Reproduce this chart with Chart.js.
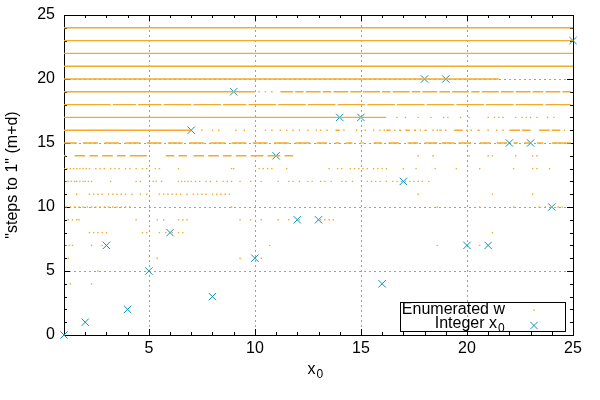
<!DOCTYPE html>
<html>
<head>
<meta charset="utf-8">
<title>steps to 1</title>
<script src="https://cdn.jsdelivr.net/npm/chart.js@4.4.1/dist/chart.umd.min.js"></script>
<style>
  html, body { margin: 0; padding: 0; background: #fff; }
  #wrap { width: 600px; height: 400px; }
</style>
</head>
<body>
<div id="wrap"><canvas id="plot"></canvas></div>
<script>
// integer starting values and their steps to 1
const xValues = [1, 2, 3, 4, 5, 6, 7, 8, 9, 10, 11, 12, 13, 14, 15, 16, 17, 18, 19, 20, 21, 22, 23, 24, 25];
const steps = [0, 1, 7, 2, 5, 8, 16, 3, 19, 6, 14, 9, 9, 17, 17, 4, 12, 20, 20, 7, 7, 15, 15, 10, 23];

// labelled ticks
const xTickLabels = [5, 10, 15, 20, 25];
const yTickLabels = [0, 5, 10, 15, 20, 25];

// enumerated w, stretches where the dots run together: [steps, from x, to x]
const wRuns = [
    [24, 1, 25], [23, 1, 25], [22, 1, 25], [21, 1, 25],
    [20, 1, 21.5],
    [19, 1, 10.0], [19, 11.2, 11.8], [19, 11.9, 12.3], [19, 12.4, 13.1], [19, 13.2, 13.6], [19, 13.7, 14.4],
    [19, 14.5, 15.0], [19, 15.1, 15.9], [19, 16.0, 16.4], [19, 16.5, 17.3], [19, 17.4, 17.8], [19, 17.9, 18.6],
    [19, 18.7, 19.2], [19, 19.3, 20.1], [19, 20.2, 20.6], [19, 20.7, 21.5], [19, 21.6, 22.2], [19, 22.3, 23.0],
    [19, 23.1, 23.6], [19, 23.7, 24.4], [19, 24.5, 24.9],
    [18, 1, 3.2], [18, 3.3, 4.4], [18, 4.5, 5.6], [18, 5.7, 7.0], [18, 7.1, 8.4], [18, 8.5, 9.6], [18, 9.7, 11.0],
    [18, 11.1, 12.4], [18, 12.5, 13.8], [18, 13.9, 15.2], [18, 15.3, 16.6], [18, 16.7, 18.0], [18, 18.1, 19.4],
    [18, 19.5, 20.8], [18, 20.9, 22.2], [18, 22.3, 23.6], [18, 23.7, 24.9],
    [17, 1, 16.2],
    [16, 1, 7.0], [16, 13.8, 14.0], [16, 16.2, 16.4], [16, 16.8, 16.9], [16, 17.1, 17.3], [16, 17.5, 17.6],
    [16, 18.0, 18.1], [16, 18.7, 18.8], [16, 19.4, 19.8], [16, 20.5, 20.6], [16, 22.0, 22.5], [16, 22.6, 23.0],
    [16, 23.4, 23.9], [16, 24.0, 24.4],
    [15, 1, 1.6], [15, 1.9, 2.6], [15, 2.9, 3.6], [15, 3.9, 4.6], [15, 4.9, 5.6], [15, 5.9, 6.6], [15, 6.9, 7.6],
    [15, 7.9, 8.6], [15, 8.9, 9.6], [15, 9.9, 10.6], [15, 10.9, 11.6], [15, 11.9, 12.6], [15, 12.9, 13.4],
    [15, 13.8, 14.0], [15, 14.3, 14.6], [15, 15.6, 16.0], [15, 16.3, 16.8], [15, 17.2, 17.7], [15, 18.0, 18.6],
    [15, 18.8, 19.4], [15, 19.6, 20.2], [15, 20.6, 21.1], [15, 21.4, 21.9], [15, 22.2, 22.4], [15, 22.7, 23.0],
    [15, 23.3, 23.6], [15, 24.0, 24.9],
    [14, 1.0, 1.1], [14, 1.5, 2.0], [14, 2.2, 2.6], [14, 2.8, 3.3], [14, 3.5, 3.9], [14, 4.1, 4.9], [14, 5.8, 6.2],
    [14, 6.4, 6.8], [14, 7.1, 7.6], [14, 7.8, 8.3], [14, 8.5, 8.9], [14, 9.1, 9.6], [14, 9.8, 10.4], [14, 10.6, 11.2],
    [14, 11.4, 11.8]
];

// enumerated w, loose dots: [steps, x, x, ...]
const wDots = [
    [19, 10.2, 10.5, 10.8],
    [17, 16.7, 17.1, 17.7, 18.3, 18.9, 19.1, 19.7, 20.1, 21.0, 21.3, 21.5, 21.7, 22.3, 22.6, 22.8, 23.0, 23.3,
        23.8, 24.1],
    [16, 7.5, 8.0, 8.3, 9.1, 9.5, 10.5, 10.8, 11.2, 11.5, 11.8, 12.1, 12.5, 12.9, 13.1, 13.4, 14.2, 14.8, 15.2,
        15.6, 15.9, 16.1, 16.6, 17.8, 18.4, 18.6, 19.0, 20.0, 20.2, 21.0, 21.4, 21.7, 24.6],
    [15, 15.0, 15.1],
    [14, 17.7, 18.4, 20.1, 21.0, 21.2, 22.3, 23.1, 23.3],
    [13, 1.0, 1.15, 1.3, 1.45, 1.6, 1.75, 1.9, 2.05, 2.2, 2.5, 2.7, 2.9, 3.2, 3.4, 3.6, 3.9, 4.1, 4.4, 4.7, 4.9,
        5.3, 5.5, 6.4, 8.9, 9.0, 10.2, 10.4, 10.6, 10.8, 11.5, 13.5, 13.9, 14.1, 14.5, 14.7, 14.9, 15.1, 15.3,
        15.6, 15.8, 16.0, 16.2, 17.0, 17.6, 18.5, 19.5, 20.6, 22.2, 23.1, 23.3, 23.9],
    [12, 1.1, 1.2, 1.35, 1.5, 1.6, 1.75, 1.9, 2.0, 2.15, 2.3, 3.2, 4.4, 4.6, 5.2, 5.35, 5.6, 6.4, 6.55, 6.7,
        6.85, 7.0, 7.2, 7.4, 7.7, 7.9, 8.2, 8.5, 8.7, 8.9, 9.3, 9.8, 10.3, 11.1, 11.6, 11.8, 12.1, 12.5, 12.7,
        13.1, 13.3, 13.6, 14.1, 14.3, 14.6, 15.3, 15.5, 15.7, 15.9, 16.2, 16.5, 16.7, 16.9, 17.1, 17.3, 17.5,
        17.7, 17.9, 18.2],
    [11, 1.6, 2.2, 2.4, 2.6, 2.8, 3.1, 3.3, 3.5, 3.7, 3.9, 4.2, 4.6, 4.9, 5.5, 5.7, 5.9, 6.1, 6.3, 6.5, 6.8,
        7.1, 7.3, 7.5, 7.7, 8.0, 8.2, 8.4, 8.6, 8.8, 17.7, 21.2, 23.1],
    [10, 1.1, 1.3, 1.5, 1.7, 1.9, 2.1, 2.3, 2.5, 2.7, 2.9, 3.1, 3.3, 3.5, 3.7, 3.9, 4.1, 8.9, 18.6, 20.6, 22.2,
        23.4, 23.7, 24.0, 24.3, 24.5],
    [9, 1.2, 1.4, 1.6, 1.7, 4.4, 5.4, 5.7, 6.4, 6.6, 6.8, 9.3, 9.8, 10.3, 11.1, 11.6, 12.1, 13.1, 13.3, 13.5, 13.7],
    [8, 2.2, 2.4, 2.6, 2.8, 3.0, 4.7, 4.9, 5.5, 5.8, 6.1, 6.4, 6.6, 21.2],
    [7, 1.1, 1.25, 1.4, 2.3, 2.8, 10.7, 18.6, 20.6],
    [6, 1.2, 5.4, 9.3, 10.3],
    [5, 2.6],
    [4, 1.3, 2.3]
];

const orange = '#f3ab2c';
const blue = '#0a92bf';
const font = '"Liberation Sans", Arial, sans-serif';

// build the library data
let runData = [];
wRuns.forEach(r => {
    runData.push({x: r[1], y: r[0]});
    runData.push({x: r[2], y: r[0]});
    runData.push({x: r[2], y: null});
});
let dotData = [];
wDots.forEach(r => {
    r.slice(1).forEach(x => dotData.push({x: x, y: r[0]}));
});
let stepData = xValues.map((x, i) => ({x: x, y: steps[i]}));

// gnuplot style frame: dotted grid, box, inward ticks, key and axis titles
const frame = {
    id: 'frame',
    beforeDatasetsDraw(chart) {
        const {ctx, chartArea: a, scales: {x, y}} = chart;
        ctx.save();
        ctx.lineWidth = 1;
        ctx.strokeStyle = '#a0a0a0';
        ctx.setLineDash([2, 3]);
        ctx.beginPath();
        xTickLabels.forEach(v => {
            if (v <= x.min || v >= x.max) return;
            let px = Math.round(x.getPixelForValue(v)) + 0.5;
            ctx.moveTo(px, a.top); ctx.lineTo(px, a.bottom);
        });
        yTickLabels.forEach(v => {
            if (v <= y.min || v >= y.max) return;
            let py = Math.round(y.getPixelForValue(v)) + 0.5;
            ctx.moveTo(a.left, py); ctx.lineTo(a.right, py);
        });
        ctx.stroke();
        ctx.setLineDash([]);

        ctx.strokeStyle = '#000';
        ctx.beginPath();
        x.ticks.forEach(t => {
            let px = Math.round(x.getPixelForValue(t.value)) + 0.5;
            let len = xTickLabels.includes(t.value) ? 6 : 3;
            ctx.moveTo(px, a.bottom); ctx.lineTo(px, a.bottom - len);
            ctx.moveTo(px, a.top); ctx.lineTo(px, a.top + len);
        });
        y.ticks.forEach(t => {
            let py = Math.round(y.getPixelForValue(t.value)) + 0.5;
            let len = yTickLabels.includes(t.value) ? 6 : 3;
            ctx.moveTo(a.left, py); ctx.lineTo(a.left + len, py);
            ctx.moveTo(a.right, py); ctx.lineTo(a.right - len, py);
        });
        ctx.stroke();
        ctx.strokeRect(Math.round(a.left) + 0.5, Math.round(a.top) + 0.5,
            Math.round(a.right - a.left), Math.round(a.bottom - a.top));
        ctx.restore();
    },
    afterDraw(chart) {
        const {ctx, chartArea: a} = chart;
        ctx.save();
        ctx.fillStyle = '#000';

        // y title
        ctx.save();
        ctx.translate(13, (a.top + a.bottom) / 2);
        ctx.rotate(-Math.PI / 2);
        ctx.font = '16px ' + font;
        ctx.textAlign = 'center';
        ctx.textBaseline = 'middle';
        ctx.fillText('"steps to 1" (m+d)', 0, 0);
        ctx.restore();

        // x title
        let cx = (a.left + a.right) / 2;
        ctx.font = '16px ' + font;
        ctx.textAlign = 'right';
        ctx.textBaseline = 'alphabetic';
        ctx.fillText('x', cx - 3, 374);
        ctx.font = '12px ' + font;
        ctx.textAlign = 'left';
        ctx.fillText('0', cx - 2, 378);

        // key
        ctx.strokeStyle = '#000';
        ctx.lineWidth = 1;
        ctx.strokeRect(400.5, 302.5, 165, 29);
        ctx.font = '16px ' + font;
        ctx.textAlign = 'right';
        ctx.fillText('Enumerated w', 505, 314);
        ctx.fillText('Integer x', 497, 328);
        ctx.font = '12px ' + font;
        ctx.textAlign = 'left';
        ctx.fillText('0', 498, 332);

        ctx.fillStyle = orange;
        ctx.fillRect(533.5, 309.5, 1.4, 1.4);
        ctx.strokeStyle = blue;
        Chart.helpers.drawPoint(ctx, {pointStyle: 'crossRot', radius: 5.2, borderWidth: 1}, 534, 325.5);
        ctx.restore();
    }
};

let ctx = document.getElementById('plot').getContext('2d');
let plot = new Chart(ctx, {
    type: 'scatter',
    data: {
        datasets: [{
            label: 'Enumerated w',
            data: runData,
            showLine: true,
            spanGaps: false,
            borderColor: orange,
            borderWidth: 1.4,
            pointRadius: 0
        }, {
            label: 'Enumerated w',
            data: dotData,
            pointStyle: 'rect',
            pointRadius: 1,
            borderWidth: 0,
            backgroundColor: orange
        }, {
            label: 'Integer x0',
            data: stepData,
            pointStyle: 'crossRot',
            pointRadius: 5.2,
            borderWidth: 1,
            borderColor: blue,
            clip: false
        }]
    },
    options: {
        responsive: true,
        maintainAspectRatio: false,
        animation: false,
        events: [],
        layout: {padding: {left: 0, top: 15, right: 27, bottom: 0}},
        plugins: {legend: {display: false}, tooltip: {enabled: false}},
        scales: {
            x: {
                type: 'linear',
                min: 1,
                max: 25,
                afterFit: s => { s.height = 65; },
                grid: {display: false, drawTicks: false},
                border: {display: false},
                ticks: {
                    stepSize: 1,
                    autoSkip: false,
                    maxRotation: 0,
                    padding: 4,
                    color: '#000',
                    font: {family: font, size: 16},
                    callback: v => xTickLabels.includes(v) ? String(v) : ''
                }
            },
            y: {
                min: 0,
                max: 25,
                afterFit: s => { s.width = 64; s.paddingTop = 0; s.paddingBottom = 0; },
                grid: {display: false, drawTicks: false},
                border: {display: false},
                ticks: {
                    stepSize: 1,
                    autoSkip: false,
                    padding: 9,
                    color: '#000',
                    font: {family: font, size: 16},
                    callback: v => yTickLabels.includes(v) ? String(v) : ''
                }
            }
        }
    },
    plugins: [frame]
});
</script>
</body>
</html>
